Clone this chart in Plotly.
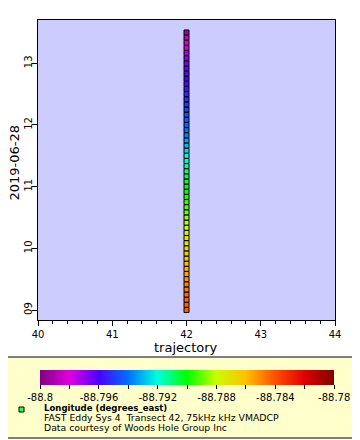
import plotly.graph_objects as go

# ---- data ----
times = [
    "2019-06-28 09:00", "2019-06-28 09:05", "2019-06-28 09:10", "2019-06-28 09:15",
    "2019-06-28 09:20", "2019-06-28 09:25", "2019-06-28 09:30", "2019-06-28 09:35",
    "2019-06-28 09:40", "2019-06-28 09:45", "2019-06-28 09:50", "2019-06-28 09:55",
    "2019-06-28 10:00", "2019-06-28 10:05", "2019-06-28 10:10", "2019-06-28 10:15",
    "2019-06-28 10:20", "2019-06-28 10:25", "2019-06-28 10:30", "2019-06-28 10:35",
    "2019-06-28 10:40", "2019-06-28 10:45", "2019-06-28 10:50", "2019-06-28 10:55",
    "2019-06-28 11:00", "2019-06-28 11:05", "2019-06-28 11:10", "2019-06-28 11:15",
    "2019-06-28 11:20", "2019-06-28 11:25", "2019-06-28 11:30", "2019-06-28 11:35",
    "2019-06-28 11:40", "2019-06-28 11:45", "2019-06-28 11:50", "2019-06-28 11:55",
    "2019-06-28 12:00", "2019-06-28 12:05", "2019-06-28 12:10", "2019-06-28 12:15",
    "2019-06-28 12:20", "2019-06-28 12:25", "2019-06-28 12:30", "2019-06-28 12:35",
    "2019-06-28 12:40", "2019-06-28 12:45", "2019-06-28 12:50", "2019-06-28 12:55",
    "2019-06-28 13:00", "2019-06-28 13:05", "2019-06-28 13:10", "2019-06-28 13:15",
    "2019-06-28 13:20", "2019-06-28 13:25", "2019-06-28 13:30",
]
longitude = [
    -88.7841, -88.7843, -88.7844, -88.7846, -88.7848, -88.7850, -88.7852, -88.7855,
    -88.7857, -88.7859, -88.7862, -88.7865, -88.7868, -88.7871, -88.7873, -88.7876,
    -88.7879, -88.7882, -88.7885, -88.7888, -88.7891, -88.7894, -88.7897, -88.7899,
    -88.7902, -88.7905, -88.7908, -88.7912, -88.7915, -88.7918, -88.7921, -88.7925,
    -88.7929, -88.7933, -88.7937, -88.7940, -88.7942, -88.7944, -88.7946, -88.7948,
    -88.7950, -88.7952, -88.7954, -88.7956, -88.7958, -88.7960, -88.7962, -88.7964,
    -88.7966, -88.7969, -88.7973, -88.7977, -88.7982, -88.7987, -88.7994,
]
trajectory = [42] * len(times)

cb_tickvals = [-88.8, -88.798, -88.796, -88.794, -88.792, -88.79, -88.788,
               -88.786, -88.784, -88.782, -88.78]
cb_ticktext = ["-88.8", "", "-88.796", "", "-88.792", "", "-88.788",
               "", "-88.784", "", "-88.78"]

rainbow = [
    [0.0, "#800080"], [0.1, "#e000e0"], [0.2, "#4c00ff"], [0.3, "#0070ff"],
    [0.4, "#00ffe0"], [0.5, "#00ff00"], [0.6, "#c8ff00"], [0.7, "#ffc000"],
    [0.8, "#ff5000"], [0.9, "#e00000"], [1.0, "#800000"],
]

FONT = "DejaVu Sans"
OFF = 8  # page body margin offset in the browser
W, H = 360, 440
ML, MR, MT, MB = 38 - OFF, 25 + OFF, 20 - OFF, 120 + OFF
PW, PH = W - ML - MR, H - MT - MB


def px(x):
    return (x - OFF - ML) / PW


def py(y):
    return (MT + PH - (y - OFF)) / PH


fig = go.Figure()
fig.add_trace(go.Scatter(
    x=trajectory, y=times, mode="markers",
    marker=dict(
        symbol="square", size=5, color=longitude, colorscale=rainbow,
        cmin=-88.8, cmax=-88.78, line=dict(color="black", width=1),
        colorbar=dict(
            orientation="h", xref="container", yref="container",
            x=(47 - OFF) / W, xanchor="left",
            y=1 - (370 - OFF) / H, yanchor="top",
            lenmode="pixels", len=294, thickness=15,
            xpad=0, ypad=0, outlinewidth=0,
            tickmode="array", tickvals=cb_tickvals, ticktext=cb_ticktext,
            ticks="outside", ticklen=4, tickcolor="black",
            ticklabeloverflow="allow",
            tickfont=dict(family=FONT, size=10, color="black"),
        ),
    ),
    showlegend=False,
))

# legend box
fig.add_shape(type="rect", xref="paper", yref="paper",
              x0=px(2), x1=px(358), y0=py(357), y1=py(438),
              fillcolor="#ffffcc", line=dict(color="black", width=1), layer="below")
fig.add_shape(type="rect", xref="paper", yref="paper",
              x0=px(19), x1=px(24), y0=py(407), y1=py(412),
              fillcolor="#33ff33", line=dict(color="black", width=1))

texts = [
    ("<b>Longitude (degrees_east)</b>", 407, "DejaVu Sans Condensed", 9.5),
    ("FAST Eddy Sys 4  Transect 42, 75kHz kHz VMADCP", 417.5, FONT, 9.3),
    ("Data courtesy of Woods Hole Group Inc", 427, FONT, 9.3),
]
for t, yy, fam, sz in texts:
    fig.add_annotation(text=t, xref="paper", yref="paper", x=px(42), y=py(yy),
                       xanchor="left", yanchor="middle", showarrow=False,
                       font=dict(family=fam, size=sz, color="black"))

# axis titles
fig.add_annotation(text="2019-06-28", xref="paper", yref="paper", x=px(13.5), y=py(163),
                   xanchor="center", yanchor="middle", textangle=-90, showarrow=False,
                   font=dict(family=FONT, size=13, color="black"))
fig.add_annotation(text="trajectory", xref="paper", yref="paper", x=px(186), y=py(347),
                   xanchor="center", yanchor="middle", showarrow=False,
                   font=dict(family=FONT, size=13, color="black"))

fig.update_layout(
    width=W, height=H,
    margin=dict(l=ML, r=MR, t=MT, b=MB, pad=0, autoexpand=False),
    paper_bgcolor="white", plot_bgcolor="#ccccff",
    font=dict(family=FONT, size=10, color="black"),
    xaxis=dict(
        range=[40, 44], dtick=1, tick0=40, showgrid=False, zeroline=False,
        showline=True, linecolor="black", linewidth=1, mirror=True,
        ticks="outside", ticklen=5, tickcolor="black", automargin=False,
        minor=dict(dtick=0.2, ticks="outside", ticklen=3, tickcolor="black", showgrid=False),
        tickfont=dict(family=FONT, size=10),
    ),
    yaxis=dict(
        type="date", range=["2019-06-28 08:50:16", "2019-06-28 13:42:08"],
        dtick=3600000, tick0="2019-06-28 09:00", tickformat="%H", tickangle=-90,
        showgrid=False, zeroline=False, automargin=False,
        showline=True, linecolor="black", linewidth=1, mirror=True,
        ticks="outside", ticklen=5, tickcolor="black", ticklabelstandoff=-4,
        tickfont=dict(family=FONT, size=10),
    ),
)

fig.write_html("out.html")
